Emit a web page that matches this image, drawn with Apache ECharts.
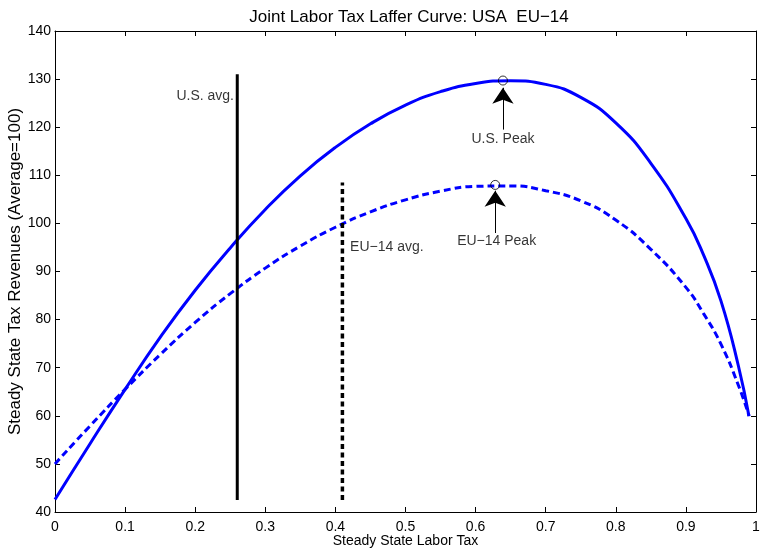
<!DOCTYPE html>
<html>
<head>
<meta charset="utf-8">
<script src="https://cdn.jsdelivr.net/npm/echarts@6/dist/echarts.min.js"></script>
<style>
  html, body { margin: 0; padding: 0; background: #fff; }
  #main { width: 760px; height: 548px; }
</style>
</head>
<body>
<div id="main"></div>
<script>
// labor tax rate (x) and revenues (average = 100)
var usTax = [0, 0.05, 0.1, 0.15, 0.2, 0.25, 0.3, 0.35, 0.4, 0.45, 0.5, 0.55, 0.6, 0.65, 0.7, 0.75, 0.8, 0.85, 0.9, 0.925, 0.95, 0.975, 0.99];
var usRevenue = [42.6, 54.2, 65.5, 76.3, 86.1, 94.9, 102.9, 109.9, 115.8, 120.7, 124.6, 127.4, 129.1, 129.65, 128.9, 126.2, 120.9, 112.5, 101.0, 93.5, 83.9, 70.3, 59.9];
var euTax = [0, 0.05, 0.1, 0.15, 0.2, 0.25, 0.3, 0.35, 0.4, 0.45, 0.5, 0.55, 0.6, 0.65, 0.7, 0.75, 0.8, 0.85, 0.9, 0.925, 0.95, 0.975, 0.99];
var euRevenue = [50.0, 57.9, 65.5, 72.7, 79.4, 85.4, 90.7, 95.3, 99.2, 102.4, 104.9, 106.7, 107.7, 107.8, 106.8, 104.7, 100.7, 94.6, 86.7, 81.3, 74.9, 66.3, 60.0];

// average tax rates (vertical lines): x, bottom, top
var usAvg = [0.26, 42.5, 131];
var euAvg = [0.41, 42.5, 108.5];

// peaks
var peakX = [0.639, 0.628];
var peakY = [129.7, 108.0];

// arrows: x, tail y, head y
var arrowX = [0.639, 0.628];
var arrowFrom = [119.5, 98.0];
var arrowTo = [128.2, 106.8];

// text notes
var noteText = ['U.S. avg.', 'EU\u221214 avg.', 'U.S. Peak', 'EU\u221214 Peak'];
var noteX = [0.2553, 0.421, 0.639, 0.630];
var noteY = [126.5, 95.0, 117.6, 96.3];
var notePos = ['left', 'right', 'inside', 'inside'];

var font = 'Liberation Sans, Arial, Helvetica, sans-serif';

function pairs(xs, ys) {
  var out = [];
  for (var i = 0; i < xs.length; i++) out.push([xs[i], ys[i]]);
  return out;
}

var chartDom = document.getElementById('main');
var myChart = echarts.init(chartDom, null, { renderer: 'canvas' });

var axisLine = { show: true, onZero: false, lineStyle: { color: '#000', width: 1 } };
var axisTick = { show: true, inside: true, length: 5, lineStyle: { color: '#000', width: 1 } };

var noteData = [];
for (var i = 0; i < noteText.length; i++) {
  noteData.push({
    value: [noteX[i], noteY[i]],
    label: { show: true, formatter: noteText[i], position: notePos[i], distance: 0 }
  });
}

var arrowData = [];
for (var j = 0; j < arrowX.length; j++) {
  arrowData.push({ coords: [[arrowX[j], arrowFrom[j]], [arrowX[j], arrowTo[j]]] });
}

var option = {
  animation: false,
  backgroundColor: '#fff',
  textStyle: { fontFamily: font },
  title: {
    text: 'Joint Labor Tax Laffer Curve: USA  EU\u221214',
    left: 404,
    textAlign: 'center',
    top: 4,
    textStyle: { fontFamily: font, fontSize: 17, fontWeight: 'normal', color: '#000' }
  },
  grid: { left: 55, right: 4, top: 31, bottom: 36, containLabel: false, outerBoundsMode: 'none' },
  xAxis: [
    {
      type: 'value', min: 0, max: 1, interval: 0.1, position: 'bottom',
      axisLine: axisLine, axisTick: axisTick, splitLine: { show: false },
      axisLabel: { color: '#000', fontSize: 14, fontFamily: font, margin: 8, showMinLabel: true, showMaxLabel: true },
      name: 'Steady State Labor Tax', nameLocation: 'middle', nameGap: 22, nameMoveOverlap: false,
      nameTextStyle: { color: '#000', fontSize: 14, fontFamily: font }
    },
    {
      type: 'value', min: 0, max: 1, interval: 0.1, position: 'top',
      axisLine: axisLine, axisTick: axisTick, splitLine: { show: false },
      axisLabel: { show: false }
    }
  ],
  yAxis: [
    {
      type: 'value', min: 40, max: 140, interval: 10, position: 'left',
      axisLine: axisLine, axisTick: axisTick, splitLine: { show: false },
      axisLabel: { color: '#000', fontSize: 14, fontFamily: font, margin: 4, showMinLabel: true, showMaxLabel: true },
      name: 'Steady State Tax Revenues (Average=100)', nameLocation: 'middle', nameGap: 31, nameMoveOverlap: false,
      nameTextStyle: { color: '#000', fontSize: 17, fontFamily: font }
    },
    {
      type: 'value', min: 40, max: 140, interval: 10, position: 'right',
      axisLine: axisLine, axisTick: axisTick, splitLine: { show: false },
      axisLabel: { show: false }
    }
  ],
  series: [
    {
      name: 'USA', type: 'line', smooth: true, showSymbol: false,
      data: pairs(usTax, usRevenue),
      lineStyle: { color: '#0000ff', width: 3 }, z: 2
    },
    {
      name: 'EU-14', type: 'line', smooth: true, showSymbol: false,
      data: pairs(euTax, euRevenue),
      lineStyle: { color: '#0000ff', width: 3, type: [7, 4] }, z: 2
    },
    {
      name: 'US avg', type: 'line', showSymbol: false,
      data: [[usAvg[0], usAvg[1]], [usAvg[0], usAvg[2]]],
      lineStyle: { color: '#000', width: 3 }, z: 3
    },
    {
      name: 'EU avg', type: 'line', showSymbol: false,
      data: [[euAvg[0], euAvg[1]], [euAvg[0], euAvg[2]]],
      lineStyle: { color: '#000', width: 3.5, type: [5, 3.5] }, z: 3
    },
    {
      name: 'peaks', type: 'scatter', symbol: 'circle', symbolSize: 9,
      data: pairs(peakX, peakY),
      itemStyle: { color: 'rgba(0,0,0,0)', borderColor: '#000', borderWidth: 1 }, z: 4
    },
    {
      name: 'arrows', type: 'lines', coordinateSystem: 'cartesian2d',
      symbol: ['none', 'arrow'], symbolSize: [10, 16],
      data: arrowData,
      lineStyle: { color: '#000', width: 1, opacity: 1 }, z: 4
    },
    {
      name: 'notes', type: 'scatter', symbolSize: 0,
      data: noteData,
      label: { color: '#000', fontSize: 14, fontFamily: font },
      z: 5
    }
  ]
};

option && myChart.setOption(option);
</script>
</body>
</html>
